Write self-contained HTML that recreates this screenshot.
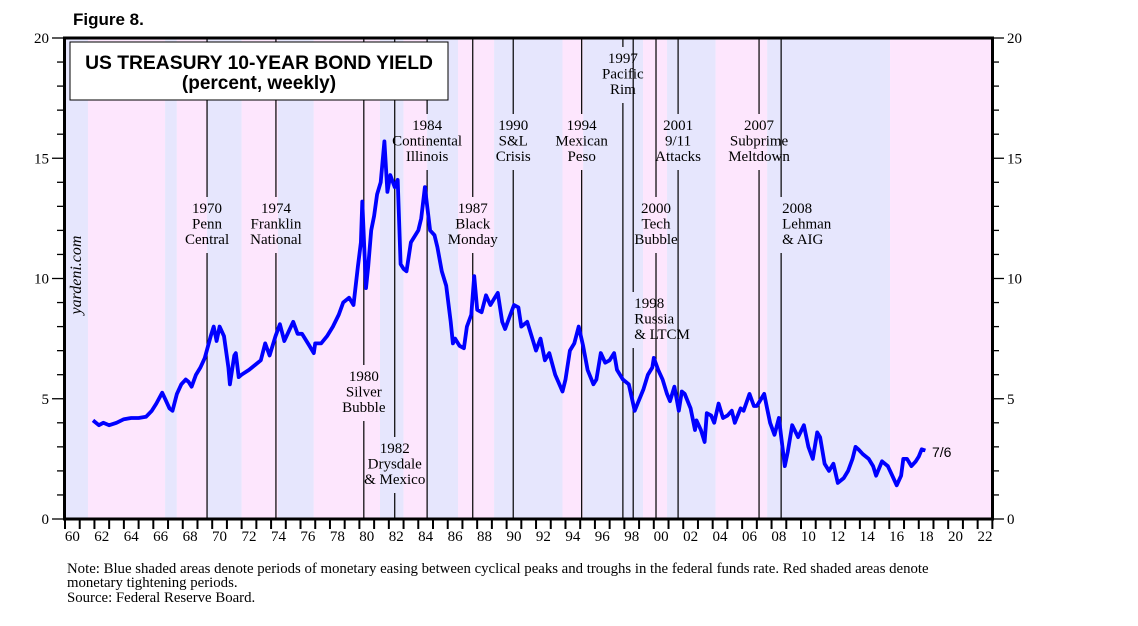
<!DOCTYPE html>
<html><head><meta charset="utf-8"><style>
body{margin:0;background:#fff;}
svg text{font-family:"Liberation Serif",serif;}
</style></head><body>
<svg id="chart" width="1138" height="621" viewBox="0 0 1138 621" xmlns="http://www.w3.org/2000/svg">
<text x="73" y="25" style="font-family:'Liberation Sans',sans-serif;font-weight:bold;font-size:17px">Figure 8.</text>
<g id="bands"></g>
<g id="events"></g>
<g id="series"></g>
<rect x="64.5" y="38" width="928" height="481" fill="none" stroke="#000" stroke-width="3"/>
<g id="axes"></g>
<rect x="70" y="42" width="378" height="58" fill="#fff" stroke="#000" stroke-width="1"/>
<text x="259" y="69" text-anchor="middle" style="font-family:'Liberation Sans',sans-serif;font-weight:bold;font-size:19.3px">US TREASURY 10-YEAR BOND YIELD</text>
<text x="259" y="89" text-anchor="middle" style="font-family:'Liberation Sans',sans-serif;font-weight:bold;font-size:19px">(percent, weekly)</text>
<text transform="translate(81,275) rotate(-90)" text-anchor="middle" style="font-style:italic;font-size:16px">yardeni.com</text>
<text x="932" y="457" style="font-family:'Liberation Sans',sans-serif;font-size:14px">7/6</text>
<text x="67" y="573" style="font-size:14.8px">Note: Blue shaded areas denote periods of monetary easing between cyclical peaks and troughs in the federal funds rate. Red shaded areas denote</text>
<text x="67" y="587" style="font-size:14.8px">monetary tightening periods.</text>
<text x="67" y="602" style="font-size:14.8px">Source: Federal Reserve Board.</text>
</svg>
<script>
const bandStarts=[1960,1961.56,1966.8,1967.6,1969.65,1972.0,1974.47,1976.9,1980.3,1981.4,1983.0,1984.6,1986.7,1989.15,1993.8,1995.2,1997.85,1999.27,2000.9,2004.2,2007.7,2016.05];
const bandEnds=[1961.56,1966.8,1967.6,1969.65,1972.0,1974.47,1976.9,1980.3,1981.4,1983.0,1984.6,1986.7,1989.15,1993.8,1995.2,1997.85,1999.27,2000.9,2004.2,2007.7,2016.05,2023];
const bandTypes=["e","t","e","t","e","t","e","t","t","e","t","e","t","e","t","e","e","t","e","t","e","t"];
const eventYears=[1969.65,1974.33,1980.3,1982.4,1984.6,1987.7,1990.45,1995.1,1997.9,1998.6,2000.15,2001.65,2007.15,2008.65];
const eventLabels=[["1970","Penn","Central"],["1974","Franklin","National"],["1980","Silver","Bubble"],["1982","Drysdale","& Mexico"],["1984","Continental","Illinois"],["1987","Black","Monday"],["1990","S&L","Crisis"],["1994","Mexican","Peso"],["1997","Pacific","Rim"],["1998","Russia","& LTCM"],["2000","Tech","Bubble"],["2001","9/11","Attacks"],["2007","Subprime","Meltdown"],["2008","Lehman","& AIG"]];
const eventLabelTop=[201,201,369,441,118,201,118,118,51,296,201,118,118,201];
const eventAnchor=["middle","middle","middle","middle","middle","middle","middle","middle","middle","start","middle","middle","middle","start"];
const years=[1961.9,1962.3,1962.6,1963,1963.5,1964,1964.5,1965,1965.5,1965.9,1966.2,1966.6,1966.8,1967.1,1967.3,1967.6,1967.9,1968.2,1968.4,1968.6,1968.9,1969.2,1969.5,1969.9,1970.1,1970.3,1970.5,1970.8,1971.1,1971.2,1971.5,1971.6,1971.8,1972,1972.5,1972.9,1973.3,1973.6,1973.9,1974,1974.3,1974.6,1974.9,1975.2,1975.5,1975.8,1976.1,1976.6,1976.9,1977,1977.4,1977.8,1978.2,1978.6,1978.9,1979.3,1979.6,1979.9,1980.1,1980.2,1980.45,1980.6,1980.8,1981,1981.2,1981.45,1981.7,1981.9,1982.1,1982.4,1982.6,1982.8,1983,1983.2,1983.5,1983.8,1984,1984.2,1984.45,1984.8,1985.1,1985.3,1985.6,1985.9,1986.2,1986.35,1986.5,1986.8,1987.1,1987.3,1987.6,1987.8,1988,1988.3,1988.6,1988.9,1989.2,1989.4,1989.7,1989.9,1990.2,1990.5,1990.8,1991,1991.4,1991.8,1992,1992.3,1992.6,1992.9,1993.3,1993.8,1994,1994.3,1994.6,1994.9,1995.2,1995.5,1995.9,1996.1,1996.4,1996.7,1997,1997.3,1997.5,1997.9,1998.3,1998.7,1998.9,1999.3,1999.6,1999.9,2000,2000.3,2000.6,2000.9,2001.1,2001.4,2001.7,2001.9,2002.1,2002.5,2002.8,2002.9,2003.2,2003.45,2003.6,2003.9,2004.1,2004.4,2004.7,2005,2005.3,2005.5,2005.9,2006.1,2006.5,2006.8,2007,2007.5,2007.7,2007.9,2008.2,2008.5,2008.9,2009.1,2009.4,2009.8,2010.2,2010.5,2010.8,2011.1,2011.3,2011.6,2011.9,2012.2,2012.5,2012.9,2013.2,2013.5,2013.7,2013.9,2014.2,2014.6,2014.9,2015.1,2015.5,2015.9,2016.2,2016.5,2016.8,2016.95,2017.2,2017.5,2017.8,2018,2018.2,2018.45];
const yields=[4.1,3.9,4.0,3.9,4.0,4.15,4.2,4.2,4.25,4.5,4.8,5.25,5.0,4.6,4.5,5.2,5.6,5.8,5.7,5.5,6.0,6.3,6.7,7.6,8.0,7.4,8.0,7.6,6.3,5.6,6.8,6.9,5.9,6.0,6.2,6.4,6.6,7.3,6.8,7.0,7.6,8.1,7.4,7.8,8.2,7.7,7.7,7.2,6.9,7.3,7.3,7.6,8.0,8.5,9.0,9.2,8.9,10.5,11.5,13.2,9.6,10.5,12.0,12.6,13.5,14.0,15.7,13.6,14.3,13.8,14.1,10.6,10.4,10.3,11.5,11.8,12.0,12.5,13.8,12.0,11.8,11.3,10.3,9.7,8.2,7.3,7.5,7.2,7.1,8.0,8.5,10.1,8.7,8.6,9.3,8.9,9.2,9.4,8.2,7.9,8.4,8.9,8.8,8.0,8.2,7.4,7.0,7.5,6.6,6.9,6.0,5.3,5.8,7.0,7.3,8.0,7.2,6.2,5.6,5.8,6.9,6.5,6.6,6.9,6.2,5.8,5.6,4.5,4.8,5.4,6.0,6.3,6.7,6.2,5.8,5.2,4.9,5.5,4.5,5.3,5.2,4.6,3.7,4.1,3.7,3.2,4.4,4.3,4.0,4.8,4.2,4.3,4.5,4.0,4.6,4.5,5.2,4.7,4.7,5.2,4.6,4.0,3.5,4.2,2.2,2.8,3.9,3.4,3.9,3.0,2.5,3.6,3.4,2.3,2.0,2.3,1.5,1.7,2.0,2.5,3.0,2.9,2.7,2.5,2.2,1.8,2.4,2.2,1.8,1.4,1.8,2.5,2.5,2.2,2.4,2.6,2.9,2.85];
const yTicks=[0,5,10,15,20];
const xLabelYears=[1960,1962,1964,1966,1968,1970,1972,1974,1976,1978,1980,1982,1984,1986,1988,1990,1992,1994,1996,1998,2000,2002,2004,2006,2008,2010,2012,2014,2016,2018,2020,2022];
const xLabels=["60","62","64","66","68","70","72","74","76","78","80","82","84","86","88","90","92","94","96","98","00","02","04","06","08","10","12","14","16","18","20","22"];

const NS="http://www.w3.org/2000/svg";
const X0=65,PX=14.72,Y0=519,PY=24.05;
const xs=y=>X0+(y-1960)*PX;
const ys=v=>Y0-v*PY;
function mk(tag,attrs,parent){const e=document.createElementNS(NS,tag);for(const k in attrs)e.setAttribute(k,attrs[k]);parent.appendChild(e);return e;}
const bands=document.getElementById('bands');
bandStarts.forEach((s,i)=>{
 const r=mk('rect',{x:xs(s),y:38,width:xs(bandEnds[i])-xs(s),height:481,fill:bandTypes[i]==='e'?'#e6e6fd':'#fde6fd'},bands);
 
 
});
const ev=document.getElementById('events');
eventYears.forEach((yr,i)=>{
 const x=xs(yr),top=eventLabelTop[i],bot=top+48;
 const g=mk('g',{},ev);
 
 
 if(top-4>40) mk('line',{x1:x,x2:x,y1:38,y2:top-4,stroke:'#000','stroke-width':1.2},g);
 mk('line',{x1:x,x2:x,y1:bot+4,y2:519,stroke:'#000','stroke-width':1.2},g);
 const tx=eventAnchor[i]==='start'?x+1:x;
 eventLabels[i].forEach((t,j)=>{
  const te=mk('text',{x:tx,y:top+12+j*15.5,'text-anchor':eventAnchor[i],'font-size':'15'},g);
  te.textContent=t;
  
  
 });
});
const ser=document.getElementById('series');
const p=mk('polyline',{points:years.map((y,i)=>xs(y).toFixed(1)+','+ys(yields[i]).toFixed(1)).join(' '),fill:'none',stroke:'#0000ff','stroke-width':3.8,'stroke-linejoin':'round'},ser);


const ax=document.getElementById('axes');
for(let v=0;v<=20;v++){
 const y=ys(v),maj=v%5===0;
 mk('line',{x1:maj?52:57,x2:64,y1:y,y2:y,stroke:'#000','stroke-width':1.3},ax);
 mk('line',{x1:993,x2:maj?1004:999,y1:y,y2:y,stroke:'#000','stroke-width':1.3},ax);
}
yTicks.forEach(v=>{
 const a=mk('text',{x:49,y:ys(v)+5,'text-anchor':'end','font-size':'15'},ax);a.textContent=v;
 
 
 const b=mk('text',{x:1007,y:ys(v)+5,'font-size':'15'},ax);b.textContent=v;
 
 
});
for(let yr=1960;yr<=2023;yr++){mk('line',{x1:xs(yr),x2:xs(yr),y1:519,y2:529,stroke:'#000','stroke-width':2},ax);}
xLabelYears.forEach((yr,i)=>{
 const t=mk('text',{x:xs(yr+0.5),y:541,'text-anchor':'middle','font-size':'15'},ax);t.textContent=xLabels[i];
 
 
});
</script>
</body></html>
